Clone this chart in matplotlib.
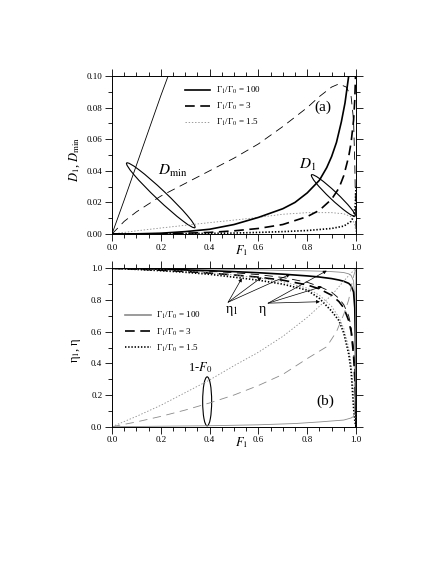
import matplotlib
matplotlib.use("Agg")
import matplotlib.pyplot as plt
import matplotlib.transforms as mtransforms
from matplotlib.patches import Ellipse
from matplotlib.lines import Line2D
from matplotlib.ticker import MultipleLocator, FormatStrFormatter

plt.rcParams['font.family'] = ['Liberation Serif', 'DejaVu Serif']
plt.rcParams['mathtext.fontset'] = 'stix'
plt.rcParams['lines.scale_dashes'] = False

# ---- panel (a): D_min (thin) and D_1 (thick) vs F_1 ----
f_dmin100 = [0.0, 0.05, 0.10, 0.15, 0.20, 0.23]
dmin100 = [0.0, 0.0215, 0.0435, 0.0655, 0.0875, 0.100]

f_dmin3 = [0.0, 0.05, 0.1, 0.2, 0.3, 0.4, 0.5, 0.6, 0.7, 0.8, 0.85, 0.9, 0.93, 0.96, 0.98, 0.99, 0.995, 1.0]
dmin3 = [0.0, 0.008, 0.014, 0.024, 0.032, 0.040, 0.048, 0.057, 0.068, 0.080, 0.087, 0.093, 0.095, 0.093, 0.087, 0.072, 0.045, 0.0]

f_dmin15 = [0.0, 0.1, 0.2, 0.3, 0.4, 0.5, 0.6, 0.7, 0.8, 0.9, 0.95, 0.98, 0.995, 1.0]
dmin15 = [0.0, 0.002, 0.0038, 0.0055, 0.0072, 0.0088, 0.0105, 0.0125, 0.0135, 0.0135, 0.0128, 0.011, 0.006, 0.0]

f_d1_100 = [0.0, 0.1, 0.2, 0.3, 0.4, 0.5, 0.6, 0.7, 0.75, 0.8, 0.85, 0.88, 0.9, 0.92, 0.94, 0.955, 0.97]
d1_100 = [0.0, 0.0001, 0.0005, 0.0015, 0.003, 0.006, 0.0105, 0.016, 0.020, 0.026, 0.034, 0.042, 0.049, 0.058, 0.071, 0.083, 0.100]

f_d1_3 = [0.0, 0.2, 0.3, 0.4, 0.5, 0.6, 0.7, 0.8, 0.85, 0.9, 0.93, 0.95, 0.97, 0.98, 0.99, 0.995, 0.998]
d1_3 = [0.0, 0.0001, 0.0005, 0.001, 0.002, 0.0035, 0.006, 0.011, 0.015, 0.022, 0.029, 0.037, 0.049, 0.058, 0.072, 0.085, 0.100]

f_d1_15 = [0.0, 0.3, 0.5, 0.6, 0.7, 0.8, 0.9, 0.95, 0.98, 0.99, 0.997, 1.0]
d1_15 = [0.0, 0.0002, 0.0006, 0.001, 0.0015, 0.0022, 0.0035, 0.005, 0.008, 0.011, 0.018, 0.03]

# ---- panel (b): eta_1 (thick), eta (thin), 1-F_0 (thin grey) ----
f_eta = [0.0, 0.1, 0.2, 0.3, 0.4, 0.5, 0.6, 0.7, 0.8, 0.85, 0.9, 0.93, 0.95, 0.97, 0.98, 0.99, 0.995, 0.998, 1.0]
eta1_100 = [1.0, 0.998, 0.995, 0.99, 0.985, 0.979, 0.972, 0.963, 0.952, 0.945, 0.935, 0.926, 0.918, 0.905, 0.89, 0.85, 0.75, 0.5, 0.0]
eta_100 = [1.0, 0.999, 0.998, 0.997, 0.995, 0.993, 0.99, 0.987, 0.984, 0.982, 0.979, 0.976, 0.973, 0.965, 0.955, 0.92, 0.8, 0.5, 0.0]
eta1_3 = [1.0, 0.995, 0.988, 0.98, 0.97, 0.958, 0.944, 0.925, 0.895, 0.87, 0.83, 0.79, 0.75, 0.67, 0.6, 0.45, 0.3, 0.15, 0.0]
eta_3 = [1.0, 0.997, 0.993, 0.988, 0.981, 0.972, 0.96, 0.942, 0.912, 0.885, 0.85, 0.81, 0.77, 0.70, 0.63, 0.5, 0.35, 0.18, 0.0]
eta1_15 = [1.0, 0.993, 0.985, 0.975, 0.962, 0.944, 0.925, 0.90, 0.862, 0.81, 0.73, 0.67, 0.59, 0.46, 0.35, 0.12, 0.04, 0.01, 0.0]
eta_15 = [1.0, 0.995, 0.99, 0.982, 0.972, 0.958, 0.94, 0.915, 0.875, 0.83, 0.76, 0.69, 0.62, 0.5, 0.4, 0.22, 0.1, 0.03, 0.0]

f_f0_100 = [0.0, 0.2, 0.4, 0.6, 0.75, 0.85, 0.95, 0.98, 0.99, 0.995, 0.998, 1.0]
f0_100 = [0.0, 0.003, 0.006, 0.012, 0.02, 0.03, 0.042, 0.055, 0.065, 0.1, 0.4, 1.0]
f_f0_3 = [0.0, 0.1, 0.2, 0.3, 0.4, 0.5, 0.6, 0.7, 0.8, 0.88, 0.92, 0.95, 0.97, 0.98, 0.99, 1.0]
f0_3 = [0.0, 0.03, 0.065, 0.105, 0.15, 0.2, 0.26, 0.33, 0.43, 0.505, 0.6, 0.71, 0.8, 0.88, 0.95, 1.0]
f_f0_15 = [0.0, 0.1, 0.2, 0.3, 0.4, 0.5, 0.6, 0.7, 0.8, 0.9, 0.95, 0.98, 1.0]
f0_15 = [0.0, 0.065, 0.135, 0.215, 0.295, 0.385, 0.47, 0.57, 0.69, 0.83, 0.92, 0.97, 1.0]

legend_labels = ['Γ$_1$/Γ$_0$ = 100', 'Γ$_1$/Γ$_0$ = 3', 'Γ$_1$/Γ$_0$ = 1.5']

GREY = '#8a8a8a'
THICK, THIN = 1.2, 0.6
DASH_THIN, DASH_THICK, DOT = (0, (6, 4)), (0, (7, 4)), (0, (1, 1.3))

fig = plt.figure(figsize=(4.36, 5.64), dpi=100)
ax_a = fig.add_axes([112 / 436, 1 - 234 / 564, 244 / 436, 158 / 564])
ax_b = fig.add_axes([112 / 436, 1 - 426.7 / 564, 244 / 436, 158.4 / 564])


def style_axis(ax, ymajor, yminor, yfmt):
    ax.set_xlim(0, 1.0)
    ax.xaxis.set_major_locator(MultipleLocator(0.2))
    ax.xaxis.set_minor_locator(MultipleLocator(0.05))
    ax.yaxis.set_major_locator(MultipleLocator(ymajor))
    ax.yaxis.set_minor_locator(MultipleLocator(yminor))
    ax.xaxis.set_major_formatter(FormatStrFormatter('%.1f'))
    ax.yaxis.set_major_formatter(FormatStrFormatter(yfmt))
    ax.tick_params(which='both', direction='out', top=True, right=True,
                   labelsize=6.5, width=0.6, pad=2)
    ax.tick_params(which='major', length=5)
    ax.tick_params(which='minor', length=2.8)
    for s in ax.spines.values():
        s.set_linewidth(0.7)


def ellipse(ax, x, y, length_px, width_px, angle):
    tr = fig.dpi_scale_trans + mtransforms.ScaledTranslation(x, y, ax.transData)
    e = Ellipse((0, 0), length_px / 100, width_px / 100, angle=angle,
                fill=False, lw=0.8, color='black', transform=tr)
    ax.add_patch(e)


# panel (a)
ax = ax_a
ax.plot(f_dmin100, dmin100, color='black', lw=THIN)
ax.plot(f_dmin3, dmin3, color='black', lw=THIN, ls=DASH_THIN)
ax.plot(f_dmin15, dmin15, color=GREY, lw=THIN, ls=DOT)
ax.plot(f_d1_100, d1_100, color='black', lw=THICK)
ax.plot(f_d1_3, d1_3, color='black', lw=THICK, ls=DASH_THICK)
ax.plot(f_d1_15, d1_15, color='black', lw=THICK, ls=DOT)
style_axis(ax, 0.02, 0.01, '%.2f')
ax.set_ylim(0, 0.10)
ellipse(ax, 0.20, 0.0245, 94, 10, -43.4)
ellipse(ax, 0.907, 0.0244, 60, 8, -43.4)
ax.text(0.25, 0.040, r'$D_\mathrm{min}$', fontsize=11, ha='center', va='center')
ax.text(0.80, 0.044, r'$D_1$', fontsize=11, ha='center', va='center')
ax.text(0.865, 0.080, '(a)', fontsize=11, ha='center', va='center')
ax.set_xlabel(r'$F_1$', fontsize=9)
ax.xaxis.set_label_coords(0.53, -0.06)
ax.set_ylabel(r'$D_1$, $D_\mathrm{min}$', fontsize=9)
ax.yaxis.set_label_coords(-0.125, 0.47)
handles_a = [Line2D([], [], color='black', lw=THICK),
             Line2D([], [], color='black', lw=THICK, ls=DASH_THICK),
             Line2D([], [], color=GREY, lw=THIN, ls=DOT)]
ax.legend(handles_a, legend_labels, loc='upper left', bbox_to_anchor=(0.30, 0.945),
          frameon=False, fontsize=6.5, borderpad=0, borderaxespad=0,
          handlelength=2.8, handletextpad=0.6, labelspacing=0.55)

# panel (b)
ax = ax_b
ax.plot(f_eta, eta_100, color=GREY, lw=THIN)
ax.plot(f_eta, eta1_100, color='black', lw=THICK)
ax.plot(f_eta, eta_3, color='black', lw=THIN, ls=DASH_THIN)
ax.plot(f_eta, eta1_3, color='black', lw=THICK, ls=DASH_THICK)
ax.plot(f_eta, eta_15, color=GREY, lw=THIN, ls=DOT)
ax.plot(f_eta, eta1_15, color='black', lw=THICK, ls=DOT)
ax.plot(f_f0_100, f0_100, color=GREY, lw=THIN)
ax.plot(f_f0_3, f0_3, color=GREY, lw=THIN, ls=DASH_THIN)
ax.plot(f_f0_15, f0_15, color=GREY, lw=THIN, ls=DOT)
style_axis(ax, 0.2, 0.1, '%.1f')
ax.set_ylim(0, 1.0)
ellipse(ax, 0.39, 0.16, 9, 49, 0)
ax.text(0.36, 0.37, r'1-$F_0$', fontsize=9, ha='center', va='center')
ax.text(0.873, 0.158, '(b)', fontsize=11, ha='center', va='center')

arrow = dict(arrowstyle='-|>', lw=0.5, color='black', mutation_scale=5,
             shrinkA=0, shrinkB=0)
for tip in [(0.532, 0.937), (0.613, 0.943), (0.73, 0.962)]:
    ax.annotate('', xy=tip, xytext=(0.476, 0.786), arrowprops=arrow)
for tip in [(0.88, 0.985), (0.86, 0.884), (0.852, 0.789)]:
    ax.annotate('', xy=tip, xytext=(0.64, 0.78), arrowprops=arrow)
ax.text(0.49, 0.72, 'η$_1$', fontsize=10, ha='center', va='baseline')
ax.text(0.615, 0.72, 'η', fontsize=10, ha='center', va='baseline')

ax.set_xlabel(r'$F_1$', fontsize=9)
ax.xaxis.set_label_coords(0.53, -0.055)
ax.set_ylabel('η$_1$, η', fontsize=9)
ax.yaxis.set_label_coords(-0.12, 0.484)
handles_b = [Line2D([], [], color=GREY, lw=THICK),
             Line2D([], [], color='black', lw=THICK, ls=DASH_THICK),
             Line2D([], [], color='black', lw=THICK, ls=DOT)]
ax.legend(handles_b, legend_labels, loc='upper left', bbox_to_anchor=(0.055, 0.735),
          frameon=False, fontsize=6.5, borderpad=0, borderaxespad=0,
          handlelength=2.8, handletextpad=0.6, labelspacing=0.55)

fig.savefig('out.png', dpi=100)
